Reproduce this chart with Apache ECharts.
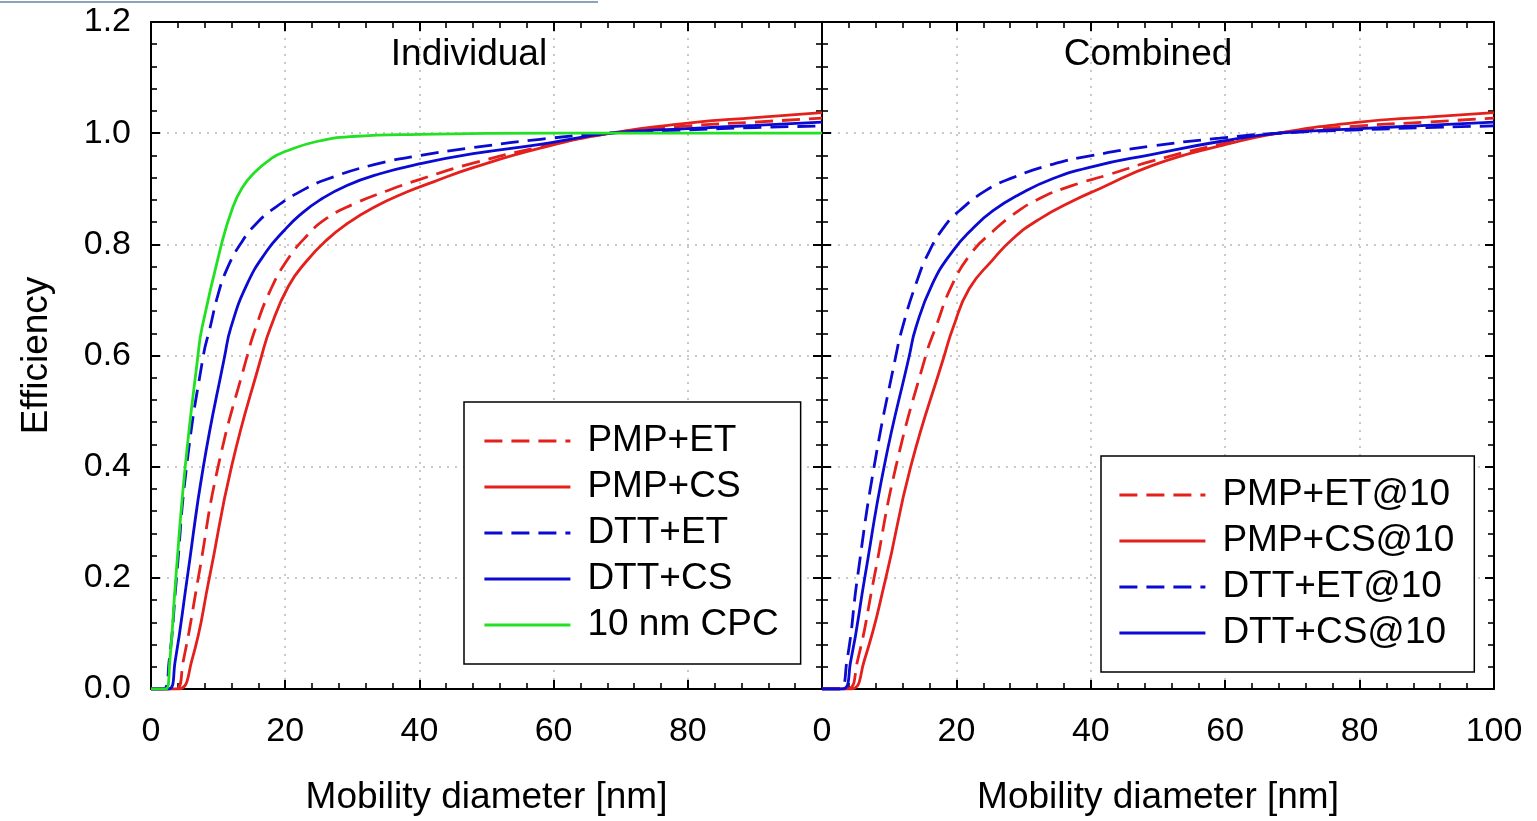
<!DOCTYPE html>
<html>
<head>
<meta charset="utf-8">
<script src="https://cdn.jsdelivr.net/npm/echarts@6/dist/echarts.min.js"></script>
<style>
html,body{margin:0;padding:0;background:#fff;overflow:hidden;}
#chart{width:1537px;height:821px;}
</style>
</head>
<body>
<div id="chart"></div>
<script>
// ---------- data ----------
const xTicks = [0, 20, 40, 60, 80, 100];
const yTicks = [0, 0.2, 0.4, 0.6, 0.8, 1.0, 1.2];
const panelTitles = ['Individual', 'Combined'];
const xAxisTitle = 'Mobility diameter [nm]';
const yAxisTitle = 'Efficiency';

// Individual panel
const namesInd = ['PMP+ET', 'PMP+CS', 'DTT+ET', 'DTT+CS', '10 nm CPC'];
const pmpEtX  = [0, 3.6, 4.8, 7.05, 10.0, 14.35, 15.6, 17.7, 20.2, 23.2, 26.2, 30.1, 35.1, 40.1, 48, 58, 68.5, 80, 90, 100];
const pmpEtY  = [0, 0, 0.05, 0.2, 0.4, 0.6, 0.65, 0.715, 0.77, 0.815, 0.847, 0.872, 0.896, 0.917, 0.946, 0.975, 1.0, 1.013, 1.02, 1.027];
const pmpCsX  = [0, 4.0, 6.06, 8.7, 12.0, 16.5, 17.8, 20.5, 23.2, 26.2, 29.2, 33.1, 38.1, 42, 48, 58, 68.5, 80, 90, 100];
const pmpCsY  = [0, 0, 0.05, 0.2, 0.4, 0.6, 0.65, 0.725, 0.77, 0.808, 0.837, 0.866, 0.894, 0.912, 0.938, 0.973, 1.0, 1.018, 1.028, 1.037];
const dttEtX  = [0, 1.8, 2.7, 3.8, 5.3, 7.8, 8.8, 10.0, 11.3, 13.3, 15.75, 18.7, 22.7, 26.2, 33.1, 40.1, 48, 58, 68.5, 80, 90, 100];
const dttEtY  = [0, 0, 0.05, 0.2, 0.4, 0.6, 0.65, 0.71, 0.755, 0.8, 0.838, 0.868, 0.898, 0.917, 0.943, 0.96, 0.974, 0.989, 1.0, 1.006, 1.01, 1.013];
const dttCsX  = [0, 2.6, 3.6, 5.4, 7.8, 11.0, 11.9, 14.3, 17.2, 19.7, 22.2, 25.2, 29.2, 34.1, 40.1, 48, 58, 68.5, 80, 90, 100];
const dttCsY  = [0, 0, 0.05, 0.2, 0.4, 0.6, 0.65, 0.728, 0.787, 0.823, 0.853, 0.88, 0.906, 0.927, 0.945, 0.963, 0.98, 1.0, 1.008, 1.014, 1.02];
const cpcX    = [0, 2.2, 2.8, 3.7, 5.1, 7.0, 7.6, 10.5, 12.0, 13.5, 15.5, 18.0, 20.0, 24.7, 30.0, 40, 60, 80, 100];
const cpcY    = [0, 0, 0.05, 0.2, 0.4, 0.6, 0.65, 0.8, 0.86, 0.9, 0.93, 0.955, 0.967, 0.985, 0.994, 0.998, 1.0, 1.0, 1.0];

// Combined panel
const namesCmb = ['PMP+ET@10', 'PMP+CS@10', 'DTT+ET@10', 'DTT+CS@10'];
const cPmpEtX = [0, 3.7, 5.27, 7.75, 11.0, 15.45, 16.9, 19.4, 22.4, 25.4, 28.4, 32.3, 37.3, 42.3, 49.2, 59.2, 68, 80, 90, 100];
const cPmpEtY = [0, 0, 0.05, 0.2, 0.4, 0.6, 0.65, 0.728, 0.787, 0.823, 0.853, 0.882, 0.906, 0.924, 0.95, 0.98, 1.0, 1.013, 1.02, 1.027];
const cPmpCsX = [0, 4.27, 6.26, 9.5, 13.2, 18.2, 19.5, 21.9, 25.4, 28.4, 32.3, 37.3, 41.3, 49.2, 59.2, 68, 80, 90, 100];
const cPmpCsY = [0, 0, 0.05, 0.2, 0.4, 0.6, 0.65, 0.72, 0.772, 0.81, 0.845, 0.878, 0.9, 0.942, 0.977, 1.0, 1.02, 1.029, 1.037];
const cDttEtX = [0, 2.5, 3.7, 5.27, 7.75, 11.0, 11.97, 13.96, 15.95, 18.4, 20.4, 24.4, 28.4, 34.3, 40.3, 49.2, 59.2, 68, 80, 90, 100];
const cDttEtY = [0, 0, 0.05, 0.2, 0.4, 0.6, 0.65, 0.728, 0.787, 0.835, 0.86, 0.897, 0.92, 0.944, 0.96, 0.977, 0.991, 1.0, 1.006, 1.01, 1.013];
const cDttCsX = [0, 3.0, 4.27, 6.36, 9.24, 13.0, 13.96, 16.4, 19.4, 22.4, 25.4, 29.4, 34.3, 40.3, 49.2, 59.2, 68, 80, 90, 100];
const cDttCsY = [0, 0, 0.05, 0.2, 0.4, 0.6, 0.65, 0.728, 0.787, 0.828, 0.86, 0.89, 0.918, 0.94, 0.962, 0.985, 1.0, 1.008, 1.014, 1.02];

// ---------- styling ----------
const RED = '#e3201c', BLUE = '#0a0ad2', GREEN = '#22e022';
const FONT = 'Arial, "Liberation Sans", Helvetica, sans-serif';
const DASH = [18, 9];

function pairs(xs, ys) { return xs.map((x, i) => [x, ys[i]]); }

function makeSeries(name, xs, ys, color, dashed, axisIdx) {
  return {
    name: name, type: 'line', xAxisIndex: axisIdx, yAxisIndex: axisIdx,
    data: pairs(xs, ys), symbol: 'none', showSymbol: false, smooth: 0.5,
    lineStyle: { color: color, width: 2.8, type: dashed ? DASH : 'solid' },
    itemStyle: { color: color }, clip: true, z: 3
  };
}

const xMin = xTicks[0], xMax = xTicks[xTicks.length - 1];
const yMin = yTicks[0], yMax = yTicks[yTicks.length - 1];
const xInt = xTicks[1] - xTicks[0], yInt = yTicks[1] - yTicks[0];

function xAxis(grid, pos, labels, showMax) {
  return {
    type: 'value', gridIndex: grid, position: pos, min: xMin, max: xMax, interval: xInt,
    axisLine: { show: true, onZero: false, lineStyle: { color: '#000', width: 2 } },
    axisTick: { show: true, inside: true, length: 9, lineStyle: { color: '#000', width: 2 } },
    minorTick: { show: true, splitNumber: 5, length: 6, lineStyle: { color: '#000', width: 1.6 } },
    axisLabel: { show: labels, color: '#000', fontSize: 34, fontFamily: FONT, margin: 26,
                 showMaxLabel: showMax, showMinLabel: true },
    splitLine: { show: labels, lineStyle: { color: '#b8b8b8', width: 1.5, type: [2, 6] } },
    name: labels ? xAxisTitle : '', nameLocation: 'middle', nameGap: 90,
    nameTextStyle: { color: '#000', fontSize: 37, fontFamily: FONT }
  };
}
function yAxis(grid, pos, labels, showName) {
  return {
    type: 'value', gridIndex: grid, position: pos, min: yMin, max: yMax, interval: yInt,
    axisLine: { show: true, onZero: false, lineStyle: { color: '#000', width: 2 } },
    axisTick: { show: true, inside: true, length: 9, lineStyle: { color: '#000', width: 2 } },
    minorTick: { show: true, splitNumber: 5, length: 6, lineStyle: { color: '#000', width: 1.6 } },
    axisLabel: { show: labels, color: '#000', fontSize: 34, fontFamily: FONT, margin: 20,
                 formatter: v => v.toFixed(1) },
    splitLine: { show: pos === 'left', lineStyle: { color: '#b8b8b8', width: 1.5, type: [2, 6] } },
    name: showName ? yAxisTitle : '', nameLocation: 'middle', nameGap: 96,
    nameTextStyle: { color: '#000', fontSize: 37, fontFamily: FONT }
  };
}

const legendCommon = {
  orient: 'vertical', backgroundColor: '#fff', borderColor: '#000', borderWidth: 1.5,
  itemWidth: 86, itemHeight: 14, itemGap: 0, selectedMode: false,
  textStyle: { color: '#000', fontSize: 37, fontFamily: FONT, lineHeight: 46, padding: [0, 0, 0, 12] },
  itemStyle: { opacity: 0, borderWidth: 0 },
  lineStyle: { width: 2.8, opacity: 1 }
};

const option = {
  animation: false,
  backgroundColor: '#fff',
  grid: [
    { left: 151, top: 22, width: 671, height: 673, containLabel: false },
    { left: 822, top: 22, width: 672, height: 673, containLabel: false }
  ],
  xAxis: [ xAxis(0, 'bottom', true, false), xAxis(0, 'top', false, false),
           xAxis(1, 'bottom', true, true),  xAxis(1, 'top', false, false) ],
  yAxis: [ yAxis(0, 'left', true, true), yAxis(0, 'right', false, false),
           yAxis(1, 'left', false, false), yAxis(1, 'right', false, false) ],
  legend: [
    Object.assign({}, legendCommon, { data: namesInd, left: 464, top: 402, padding: [16, 22, 16, 19] }),
    Object.assign({}, legendCommon, { data: namesCmb, left: 1101, top: 456, padding: [16, 20, 16, 17] })
  ],
  graphic: [
    { type: 'text', x: 469, y: 55, style: { text: panelTitles[0], font: '37px ' + FONT, fill: '#000', align: 'center', verticalAlign: 'middle' } },
    { type: 'text', x: 1148, y: 55, style: { text: panelTitles[1], font: '37px ' + FONT, fill: '#000', align: 'center', verticalAlign: 'middle' } },
    { type: 'line', shape: { x1: 0, y1: 2, x2: 598, y2: 2 }, style: { stroke: '#8ea3bb', lineWidth: 2 } }
  ],
  series: [
    makeSeries(namesInd[0], pmpEtX, pmpEtY, RED, true, 0),
    makeSeries(namesInd[1], pmpCsX, pmpCsY, RED, false, 0),
    makeSeries(namesInd[2], dttEtX, dttEtY, BLUE, true, 0),
    makeSeries(namesInd[3], dttCsX, dttCsY, BLUE, false, 0),
    makeSeries(namesInd[4], cpcX, cpcY, GREEN, false, 0),
    makeSeries(namesCmb[0], cPmpEtX, cPmpEtY, RED, true, 2),
    makeSeries(namesCmb[1], cPmpCsX, cPmpCsY, RED, false, 2),
    makeSeries(namesCmb[2], cDttEtX, cDttEtY, BLUE, true, 2),
    makeSeries(namesCmb[3], cDttCsX, cDttCsY, BLUE, false, 2)
  ]
};

const chart = echarts.init(document.getElementById('chart'), null, { renderer: 'canvas' });
chart.setOption(option);
</script>
</body>
</html>
